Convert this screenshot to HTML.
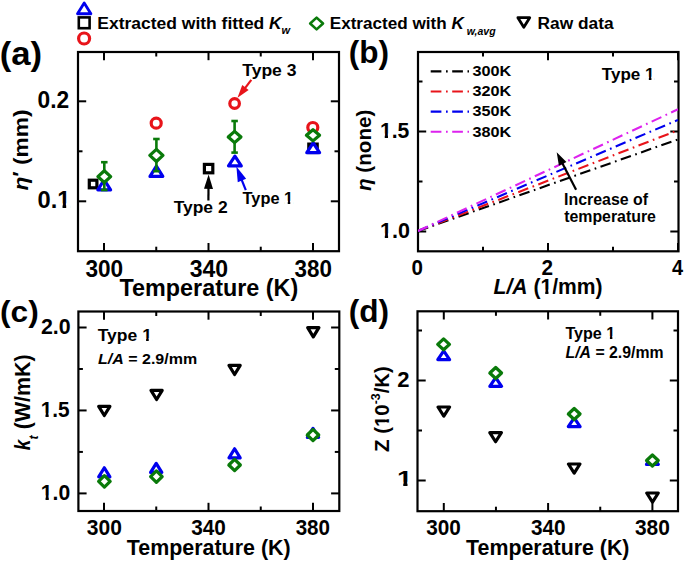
<!DOCTYPE html>
<html><head><meta charset="utf-8"><style>html,body{margin:0;padding:0;background:#fff;} svg{display:block;} text{font-family:"Liberation Sans",sans-serif;font-weight:bold;}</style></head>
<body><svg width="685" height="561" viewBox="0 0 685 561" font-family="Liberation Sans, sans-serif" font-weight="bold"><rect x="78" y="52" width="261" height="199.2" fill="none" stroke="#000" stroke-width="2.2"></rect>
<line x1="104.00" y1="251.20" x2="104.00" y2="243.00" stroke="#000" stroke-width="2"></line>
<line x1="104.00" y1="52.00" x2="104.00" y2="60.20" stroke="#000" stroke-width="2"></line>
<line x1="208.50" y1="251.20" x2="208.50" y2="243.00" stroke="#000" stroke-width="2"></line>
<line x1="208.50" y1="52.00" x2="208.50" y2="60.20" stroke="#000" stroke-width="2"></line>
<line x1="313.00" y1="251.20" x2="313.00" y2="243.00" stroke="#000" stroke-width="2"></line>
<line x1="313.00" y1="52.00" x2="313.00" y2="60.20" stroke="#000" stroke-width="2"></line>
<line x1="156.25" y1="251.20" x2="156.25" y2="246.70" stroke="#000" stroke-width="2"></line>
<line x1="156.25" y1="52.00" x2="156.25" y2="56.50" stroke="#000" stroke-width="2"></line>
<line x1="260.75" y1="251.20" x2="260.75" y2="246.70" stroke="#000" stroke-width="2"></line>
<line x1="260.75" y1="52.00" x2="260.75" y2="56.50" stroke="#000" stroke-width="2"></line>
<line x1="78.00" y1="201.30" x2="86.20" y2="201.30" stroke="#000" stroke-width="2"></line>
<line x1="339.00" y1="201.30" x2="330.80" y2="201.30" stroke="#000" stroke-width="2"></line>
<line x1="78.00" y1="101.30" x2="86.20" y2="101.30" stroke="#000" stroke-width="2"></line>
<line x1="339.00" y1="101.30" x2="330.80" y2="101.30" stroke="#000" stroke-width="2"></line>
<line x1="78.00" y1="151.30" x2="82.50" y2="151.30" stroke="#000" stroke-width="2"></line>
<line x1="339.00" y1="151.30" x2="334.50" y2="151.30" stroke="#000" stroke-width="2"></line>
<rect x="89.30" y="180.20" width="7.60" height="7.60" fill="#fff" stroke="#000" stroke-width="3.2"></rect>
<rect x="204.40" y="164.40" width="8.40" height="8.40" fill="#fff" stroke="#000" stroke-width="3.2"></rect>
<rect x="308.80" y="144.10" width="8.40" height="8.40" fill="#fff" stroke="#000" stroke-width="3.2"></rect>
<path d="M104.20,179.76 L110.60,189.80 L97.80,189.80 Z" fill="#fff" stroke="#0000ee" stroke-width="3.2" stroke-linejoin="round"></path>
<path d="M156.40,166.16 L162.80,176.40 L150.00,176.40 Z" fill="#fff" stroke="#0000ee" stroke-width="3.2" stroke-linejoin="round"></path>
<path d="M234.90,156.16 L241.30,165.80 L228.50,165.80 Z" fill="#fff" stroke="#0000ee" stroke-width="3.2" stroke-linejoin="round"></path>
<path d="M313.20,142.86 L319.60,152.70 L306.80,152.70 Z" fill="#fff" stroke="#0000ee" stroke-width="3.2" stroke-linejoin="round"></path>
<circle cx="156.20" cy="123.20" r="5.00" fill="#fff" stroke="#e8141a" stroke-width="3.2"></circle>
<circle cx="234.60" cy="103.50" r="4.80" fill="#fff" stroke="#e8141a" stroke-width="3.2"></circle>
<circle cx="312.80" cy="127.50" r="5.00" fill="#fff" stroke="#e8141a" stroke-width="3.2"></circle>
<line x1="104.30" y1="162.20" x2="104.30" y2="190.00" stroke="#0a7a0a" stroke-width="2.6"></line>
<line x1="101.05" y1="162.20" x2="107.55" y2="162.20" stroke="#0a7a0a" stroke-width="2.6"></line>
<line x1="101.05" y1="190.00" x2="107.55" y2="190.00" stroke="#0a7a0a" stroke-width="2.6"></line>
<line x1="156.40" y1="139.00" x2="156.40" y2="171.20" stroke="#0a7a0a" stroke-width="2.6"></line>
<line x1="153.15" y1="139.00" x2="159.65" y2="139.00" stroke="#0a7a0a" stroke-width="2.6"></line>
<line x1="153.15" y1="171.20" x2="159.65" y2="171.20" stroke="#0a7a0a" stroke-width="2.6"></line>
<line x1="234.60" y1="121.00" x2="234.60" y2="152.60" stroke="#0a7a0a" stroke-width="2.6"></line>
<line x1="231.35" y1="121.00" x2="237.85" y2="121.00" stroke="#0a7a0a" stroke-width="2.6"></line>
<line x1="231.35" y1="152.60" x2="237.85" y2="152.60" stroke="#0a7a0a" stroke-width="2.6"></line>
<path d="M104.30,170.72 L110.68,176.60 L104.30,182.48 L97.92,176.60 Z" fill="#fff" stroke="#0a7a0a" stroke-width="3.2" stroke-linejoin="round"></path>
<path d="M156.40,149.32 L162.98,155.40 L156.40,161.48 L149.82,155.40 Z" fill="#fff" stroke="#0a7a0a" stroke-width="3.2" stroke-linejoin="round"></path>
<path d="M234.60,131.42 L240.98,137.00 L234.60,142.58 L228.22,137.00 Z" fill="#fff" stroke="#0a7a0a" stroke-width="3.2" stroke-linejoin="round"></path>
<path d="M313.00,129.72 L319.58,135.30 L313.00,140.88 L306.42,135.30 Z" fill="#fff" stroke="#0a7a0a" stroke-width="3.2" stroke-linejoin="round"></path>
<line x1="251.30" y1="79.90" x2="244.83" y2="88.30" stroke="#e8141a" stroke-width="2.2"></line>
<path d="M237.50,97.80 L242.27,85.06 L248.61,89.95 Z" fill="#e8141a"></path>
<line x1="208.40" y1="200.40" x2="208.50" y2="187.90" stroke="#000" stroke-width="2.2"></line>
<path d="M208.60,174.40 L212.99,188.93 L203.99,188.86 Z" fill="#000"></path>
<line x1="245.80" y1="190.20" x2="241.58" y2="179.61" stroke="#0000ee" stroke-width="2.2"></line>
<path d="M236.40,166.60 L246.13,178.87 L237.77,182.20 Z" fill="#0000ee"></path>
<rect x="418" y="52" width="260.5" height="199.3" fill="none" stroke="#000" stroke-width="2.2"></rect>
<line x1="418.00" y1="251.30" x2="418.00" y2="243.10" stroke="#000" stroke-width="2"></line>
<line x1="418.00" y1="52.00" x2="418.00" y2="60.20" stroke="#000" stroke-width="2"></line>
<line x1="548.00" y1="251.30" x2="548.00" y2="243.10" stroke="#000" stroke-width="2"></line>
<line x1="548.00" y1="52.00" x2="548.00" y2="60.20" stroke="#000" stroke-width="2"></line>
<line x1="678.00" y1="251.30" x2="678.00" y2="243.10" stroke="#000" stroke-width="2"></line>
<line x1="678.00" y1="52.00" x2="678.00" y2="60.20" stroke="#000" stroke-width="2"></line>
<line x1="483.00" y1="251.30" x2="483.00" y2="246.80" stroke="#000" stroke-width="2"></line>
<line x1="483.00" y1="52.00" x2="483.00" y2="56.50" stroke="#000" stroke-width="2"></line>
<line x1="613.00" y1="251.30" x2="613.00" y2="246.80" stroke="#000" stroke-width="2"></line>
<line x1="613.00" y1="52.00" x2="613.00" y2="56.50" stroke="#000" stroke-width="2"></line>
<line x1="418.00" y1="231.50" x2="426.20" y2="231.50" stroke="#000" stroke-width="2"></line>
<line x1="678.50" y1="231.50" x2="670.30" y2="231.50" stroke="#000" stroke-width="2"></line>
<line x1="418.00" y1="131.50" x2="426.20" y2="131.50" stroke="#000" stroke-width="2"></line>
<line x1="678.50" y1="131.50" x2="670.30" y2="131.50" stroke="#000" stroke-width="2"></line>
<line x1="418.00" y1="181.50" x2="422.50" y2="181.50" stroke="#000" stroke-width="2"></line>
<line x1="678.50" y1="181.50" x2="674.00" y2="181.50" stroke="#000" stroke-width="2"></line>
<line x1="418.00" y1="81.50" x2="422.50" y2="81.50" stroke="#000" stroke-width="2"></line>
<line x1="678.50" y1="81.50" x2="674.00" y2="81.50" stroke="#000" stroke-width="2"></line>
<clipPath id="cb"><rect x="418" y="52" width="260.5" height="199.3"></rect></clipPath>
<line x1="418" y1="231" x2="678" y2="139.4" stroke="#000" stroke-width="2.1" stroke-dasharray="10.7 4.6 1.7 4.5" clip-path="url(#cb)"></line>
<line x1="418" y1="231" x2="678" y2="130.3" stroke="#e8141a" stroke-width="2.1" stroke-dasharray="10.7 4.6 1.7 4.5" clip-path="url(#cb)"></line>
<line x1="418" y1="231" x2="678" y2="119.9" stroke="#0000ee" stroke-width="2.1" stroke-dasharray="10.7 4.6 1.7 4.5" clip-path="url(#cb)"></line>
<line x1="418" y1="231" x2="678" y2="109.3" stroke="#dd22ee" stroke-width="2.1" stroke-dasharray="10.7 4.6 1.7 4.5" clip-path="url(#cb)"></line>
<line x1="430.7" y1="71.40" x2="469" y2="71.40" stroke="#000" stroke-width="2.1" stroke-dasharray="10.7 4.6 1.7 4.5"></line>
<line x1="430.7" y1="91.50" x2="469" y2="91.50" stroke="#e8141a" stroke-width="2.1" stroke-dasharray="10.7 4.6 1.7 4.5"></line>
<line x1="430.7" y1="111.60" x2="469" y2="111.60" stroke="#0000ee" stroke-width="2.1" stroke-dasharray="10.7 4.6 1.7 4.5"></line>
<line x1="430.7" y1="131.70" x2="469" y2="131.70" stroke="#dd22ee" stroke-width="2.1" stroke-dasharray="10.7 4.6 1.7 4.5"></line>
<line x1="576.10" y1="189.70" x2="562.23" y2="162.95" stroke="#000" stroke-width="2.2"></line>
<path d="M556.70,152.30 L566.46,161.88 L558.91,165.80 Z" fill="#000"></path>
<rect x="78.4" y="311.5" width="260.9" height="199.5" fill="none" stroke="#000" stroke-width="2.2"></rect>
<line x1="104.00" y1="511.00" x2="104.00" y2="502.80" stroke="#000" stroke-width="2"></line>
<line x1="104.00" y1="311.50" x2="104.00" y2="319.70" stroke="#000" stroke-width="2"></line>
<line x1="208.50" y1="511.00" x2="208.50" y2="502.80" stroke="#000" stroke-width="2"></line>
<line x1="208.50" y1="311.50" x2="208.50" y2="319.70" stroke="#000" stroke-width="2"></line>
<line x1="313.00" y1="511.00" x2="313.00" y2="502.80" stroke="#000" stroke-width="2"></line>
<line x1="313.00" y1="311.50" x2="313.00" y2="319.70" stroke="#000" stroke-width="2"></line>
<line x1="156.25" y1="511.00" x2="156.25" y2="506.50" stroke="#000" stroke-width="2"></line>
<line x1="156.25" y1="311.50" x2="156.25" y2="316.00" stroke="#000" stroke-width="2"></line>
<line x1="260.75" y1="511.00" x2="260.75" y2="506.50" stroke="#000" stroke-width="2"></line>
<line x1="260.75" y1="311.50" x2="260.75" y2="316.00" stroke="#000" stroke-width="2"></line>
<line x1="78.40" y1="493.40" x2="86.60" y2="493.40" stroke="#000" stroke-width="2"></line>
<line x1="339.30" y1="493.40" x2="331.10" y2="493.40" stroke="#000" stroke-width="2"></line>
<line x1="78.40" y1="410.45" x2="86.60" y2="410.45" stroke="#000" stroke-width="2"></line>
<line x1="339.30" y1="410.45" x2="331.10" y2="410.45" stroke="#000" stroke-width="2"></line>
<line x1="78.40" y1="327.50" x2="86.60" y2="327.50" stroke="#000" stroke-width="2"></line>
<line x1="339.30" y1="327.50" x2="331.10" y2="327.50" stroke="#000" stroke-width="2"></line>
<line x1="78.40" y1="451.92" x2="82.90" y2="451.92" stroke="#000" stroke-width="2"></line>
<line x1="339.30" y1="451.92" x2="334.80" y2="451.92" stroke="#000" stroke-width="2"></line>
<line x1="78.40" y1="368.97" x2="82.90" y2="368.97" stroke="#000" stroke-width="2"></line>
<line x1="339.30" y1="368.97" x2="334.80" y2="368.97" stroke="#000" stroke-width="2"></line>
<path d="M104.30,415.54 L109.90,406.30 L98.70,406.30 Z" fill="#fff" stroke="#000" stroke-width="3.2" stroke-linejoin="round"></path>
<path d="M156.60,399.54 L162.20,390.30 L151.00,390.30 Z" fill="#fff" stroke="#000" stroke-width="3.2" stroke-linejoin="round"></path>
<path d="M234.60,374.54 L240.20,365.30 L229.00,365.30 Z" fill="#fff" stroke="#000" stroke-width="3.2" stroke-linejoin="round"></path>
<path d="M313.30,336.84 L318.90,327.60 L307.70,327.60 Z" fill="#fff" stroke="#000" stroke-width="3.2" stroke-linejoin="round"></path>
<path d="M104.30,467.76 L109.90,476.80 L98.70,476.80 Z" fill="#fff" stroke="#0000ee" stroke-width="3.2" stroke-linejoin="round"></path>
<path d="M156.20,463.36 L161.80,472.40 L150.60,472.40 Z" fill="#fff" stroke="#0000ee" stroke-width="3.2" stroke-linejoin="round"></path>
<path d="M234.60,448.76 L240.20,457.80 L229.00,457.80 Z" fill="#fff" stroke="#0000ee" stroke-width="3.2" stroke-linejoin="round"></path>
<path d="M313.00,428.36 L318.60,437.40 L307.40,437.40 Z" fill="#fff" stroke="#0000ee" stroke-width="3.2" stroke-linejoin="round"></path>
<path d="M104.40,475.72 L110.18,481.40 L104.40,487.08 L98.62,481.40 Z" fill="#fff" stroke="#0a7a0a" stroke-width="3.2" stroke-linejoin="round"></path>
<path d="M156.40,470.92 L162.18,476.60 L156.40,482.28 L150.62,476.60 Z" fill="#fff" stroke="#0a7a0a" stroke-width="3.2" stroke-linejoin="round"></path>
<path d="M234.60,459.32 L240.38,465.00 L234.60,470.68 L228.82,465.00 Z" fill="#fff" stroke="#0a7a0a" stroke-width="3.2" stroke-linejoin="round"></path>
<path d="M313.00,429.32 L318.78,435.00 L313.00,440.68 L307.22,435.00 Z" fill="#fff" stroke="#0a7a0a" stroke-width="3.2" stroke-linejoin="round"></path>
<rect x="417.5" y="311.3" width="260.5" height="199.89999999999998" fill="none" stroke="#000" stroke-width="2.2"></rect>
<line x1="443.80" y1="511.20" x2="443.80" y2="503.00" stroke="#000" stroke-width="2"></line>
<line x1="443.80" y1="311.30" x2="443.80" y2="319.50" stroke="#000" stroke-width="2"></line>
<line x1="548.10" y1="511.20" x2="548.10" y2="503.00" stroke="#000" stroke-width="2"></line>
<line x1="548.10" y1="311.30" x2="548.10" y2="319.50" stroke="#000" stroke-width="2"></line>
<line x1="652.40" y1="511.20" x2="652.40" y2="503.00" stroke="#000" stroke-width="2"></line>
<line x1="652.40" y1="311.30" x2="652.40" y2="319.50" stroke="#000" stroke-width="2"></line>
<line x1="495.95" y1="511.20" x2="495.95" y2="506.70" stroke="#000" stroke-width="2"></line>
<line x1="495.95" y1="311.30" x2="495.95" y2="315.80" stroke="#000" stroke-width="2"></line>
<line x1="600.25" y1="511.20" x2="600.25" y2="506.70" stroke="#000" stroke-width="2"></line>
<line x1="600.25" y1="311.30" x2="600.25" y2="315.80" stroke="#000" stroke-width="2"></line>
<line x1="417.50" y1="480.50" x2="425.70" y2="480.50" stroke="#000" stroke-width="2"></line>
<line x1="678.00" y1="480.50" x2="669.80" y2="480.50" stroke="#000" stroke-width="2"></line>
<line x1="417.50" y1="380.50" x2="425.70" y2="380.50" stroke="#000" stroke-width="2"></line>
<line x1="678.00" y1="380.50" x2="669.80" y2="380.50" stroke="#000" stroke-width="2"></line>
<line x1="417.50" y1="430.50" x2="422.00" y2="430.50" stroke="#000" stroke-width="2"></line>
<line x1="678.00" y1="430.50" x2="673.50" y2="430.50" stroke="#000" stroke-width="2"></line>
<line x1="417.50" y1="330.50" x2="422.00" y2="330.50" stroke="#000" stroke-width="2"></line>
<line x1="678.00" y1="330.50" x2="673.50" y2="330.50" stroke="#000" stroke-width="2"></line>
<path d="M443.80,416.04 L449.60,407.00 L438.00,407.00 Z" fill="#fff" stroke="#000" stroke-width="3.2" stroke-linejoin="round"></path>
<path d="M495.60,441.74 L501.40,432.70 L489.80,432.70 Z" fill="#fff" stroke="#000" stroke-width="3.2" stroke-linejoin="round"></path>
<path d="M574.20,473.04 L580.00,464.00 L568.40,464.00 Z" fill="#fff" stroke="#000" stroke-width="3.2" stroke-linejoin="round"></path>
<path d="M652.50,502.04 L658.30,493.00 L646.70,493.00 Z" fill="#fff" stroke="#000" stroke-width="3.2" stroke-linejoin="round"></path>
<path d="M443.70,350.96 L449.60,359.60 L437.80,359.60 Z" fill="#fff" stroke="#0000ee" stroke-width="3.2" stroke-linejoin="round"></path>
<path d="M495.70,377.66 L501.60,386.30 L489.80,386.30 Z" fill="#fff" stroke="#0000ee" stroke-width="3.2" stroke-linejoin="round"></path>
<path d="M574.20,417.96 L580.10,426.60 L568.30,426.60 Z" fill="#fff" stroke="#0000ee" stroke-width="3.2" stroke-linejoin="round"></path>
<path d="M652.40,455.76 L658.30,464.40 L646.50,464.40 Z" fill="#fff" stroke="#0000ee" stroke-width="3.2" stroke-linejoin="round"></path>
<path d="M443.60,338.82 L449.48,344.30 L443.60,349.78 L437.72,344.30 Z" fill="#fff" stroke="#0a7a0a" stroke-width="3.2" stroke-linejoin="round"></path>
<path d="M495.70,367.52 L501.58,373.00 L495.70,378.48 L489.82,373.00 Z" fill="#fff" stroke="#0a7a0a" stroke-width="3.2" stroke-linejoin="round"></path>
<path d="M574.20,408.52 L580.08,414.00 L574.20,419.48 L568.32,414.00 Z" fill="#fff" stroke="#0a7a0a" stroke-width="3.2" stroke-linejoin="round"></path>
<path d="M652.40,455.02 L658.28,460.50 L652.40,465.98 L646.52,460.50 Z" fill="#fff" stroke="#0a7a0a" stroke-width="3.2" stroke-linejoin="round"></path>
<path d="M84.20,2.89 L90.90,13.75 L77.50,13.75 Z" fill="#fff" stroke="#0000ee" stroke-width="2.8" stroke-linejoin="round"></path>
<rect x="78.80" y="17.40" width="10.80" height="10.80" fill="#fff" stroke="#000" stroke-width="2.6"></rect>
<circle cx="84.10" cy="38.50" r="5.50" fill="#fff" stroke="#e8141a" stroke-width="3.2"></circle>
<path d="M316.60,17.66 L323.04,23.50 L316.60,29.34 L310.16,23.50 Z" fill="#fff" stroke="#0a7a0a" stroke-width="2.6" stroke-linejoin="round"></path>
<path d="M523.80,27.26 L529.70,17.70 L517.90,17.70 Z" fill="#fff" stroke="#000" stroke-width="2.8" stroke-linejoin="round"></path>
<text transform="translate(-0.24,65.00) scale(0.21027,0.20000)" font-size="165" fill="#000">(a)</text>
<text transform="translate(37.54,108.20) scale(0.19136,0.20000)" font-size="119" fill="#000">0.2</text>
<text transform="translate(37.51,207.80) scale(0.19892,0.20000)" font-size="119" fill="#000">0.1</text><path d="M100.84,-23.24H125.94V5.23H100.84ZM144.13,-23.24H166.50V5.23H144.13Z" fill="#fff" transform="translate(37.51,207.80) scale(0.19892,0.20000)"></path>
<text transform="translate(85.42,277.20) scale(0.19232,0.20000)" font-size="117.5" fill="#000">300</text>
<text transform="translate(189.71,277.20) scale(0.19603,0.20000)" font-size="117.5" fill="#000">340</text>
<text transform="translate(294.52,277.20) scale(0.19073,0.20000)" font-size="117.5" fill="#000">380</text>
<text transform="translate(119.55,295.60) scale(0.19882,0.20000)" font-size="117.5" fill="#000">Temperature (K)</text>
<text transform="translate(28.40,190.54) rotate(-90) scale(0.21605,0.20000)" font-size="105" fill="#000"><tspan font-style="italic">η</tspan><tspan dy="-8">′</tspan><tspan dy="8"> (mm)</tspan></text>
<text transform="translate(242.23,75.50) scale(0.21400,0.20000)" font-size="82" fill="#000">Type 3</text>
<text transform="translate(173.64,213.10) scale(0.21030,0.20000)" font-size="83" fill="#000">Type 2</text>
<text transform="translate(242.55,204.10) scale(0.19731,0.20000)" font-size="83" fill="#000">Type 1</text><path d="M211.53,-16.21H229.04V3.65H211.53ZM241.72,-16.21H257.33V3.65H241.72Z" fill="#fff" transform="translate(242.55,204.10) scale(0.19731,0.20000)"></path>
<text transform="translate(472.48,76.20) scale(0.20966,0.20000)" font-size="77.5" fill="#000">300K</text>
<text transform="translate(472.48,96.30) scale(0.20966,0.20000)" font-size="77.5" fill="#000">320K</text>
<text transform="translate(472.48,116.40) scale(0.20966,0.20000)" font-size="77.5" fill="#000">350K</text>
<text transform="translate(472.48,136.50) scale(0.20966,0.20000)" font-size="77.5" fill="#000">380K</text>
<text transform="translate(348.65,62.70) scale(0.20722,0.20000)" font-size="152.5" fill="#000">(b)</text>
<text transform="translate(379.98,137.80) scale(0.18966,0.20000)" font-size="111.5" fill="#000">1.5</text><path d="M1.63,-21.78H25.15V4.90H1.63ZM42.19,-21.78H63.15V4.90H42.19Z" fill="#fff" transform="translate(379.98,137.80) scale(0.18966,0.20000)"></path>
<text transform="translate(379.95,237.60) scale(0.19298,0.20000)" font-size="111.5" fill="#000">1.0</text><path d="M1.63,-21.78H25.15V4.90H1.63ZM42.19,-21.78H63.15V4.90H42.19Z" fill="#fff" transform="translate(379.95,237.60) scale(0.19298,0.20000)"></path>
<text transform="translate(411.40,275.40) scale(0.18047,0.20000)" font-size="114" fill="#000">0</text>
<text transform="translate(541.52,275.40) scale(0.18182,0.20000)" font-size="114" fill="#000">2</text>
<text transform="translate(672.08,275.40) scale(0.17469,0.20000)" font-size="114" fill="#000">4</text>
<text transform="translate(493.62,293.80) scale(0.19179,0.20000)" font-size="110" fill="#000"><tspan font-style="italic">L/A</tspan> (1/mm)</text><path d="M245.95,-21.48H269.15V4.83H245.95ZM285.96,-21.48H306.64V4.83H285.96Z" fill="#fff" transform="translate(493.62,293.80) scale(0.19179,0.20000)"></path>
<text transform="translate(371.30,191.00) rotate(-90) scale(0.20139,0.20000)" font-size="102.5" fill="#000"><tspan font-style="italic">η</tspan> (none)</text>
<text transform="translate(601.84,79.90) scale(0.20758,0.20000)" font-size="82" fill="#000">Type 1</text><path d="M209.10,-16.02H226.40V3.60H209.10ZM238.93,-16.02H254.34V3.60H238.93Z" fill="#fff" transform="translate(601.84,79.90) scale(0.20758,0.20000)"></path>
<text transform="translate(564.08,205.30) scale(0.20417,0.20000)" font-size="78" fill="#000">Increase of</text>
<text transform="translate(564.15,222.40) scale(0.20380,0.20000)" font-size="78" fill="#000">temperature</text>
<text transform="translate(0.01,322.20) scale(0.21156,0.20000)" font-size="150" fill="#000">(c)</text>
<text transform="translate(40.89,333.80) scale(0.18983,0.20000)" font-size="112.5" fill="#000">2.0</text>
<text transform="translate(40.80,417.00) scale(0.18621,0.20000)" font-size="111.5" fill="#000">1.5</text><path d="M1.63,-21.78H25.15V4.90H1.63ZM42.19,-21.78H63.15V4.90H42.19Z" fill="#fff" transform="translate(40.80,417.00) scale(0.18621,0.20000)"></path>
<text transform="translate(40.78,499.60) scale(0.18947,0.20000)" font-size="111.5" fill="#000">1.0</text><path d="M1.63,-21.78H25.15V4.90H1.63ZM42.19,-21.78H63.15V4.90H42.19Z" fill="#fff" transform="translate(40.78,499.60) scale(0.18947,0.20000)"></path>
<text transform="translate(86.82,534.60) scale(0.19121,0.20000)" font-size="110" fill="#000">300</text>
<text transform="translate(191.23,534.60) scale(0.18894,0.20000)" font-size="110" fill="#000">340</text>
<text transform="translate(295.63,534.60) scale(0.18723,0.20000)" font-size="110" fill="#000">380</text>
<text transform="translate(126.75,555.20) scale(0.19662,0.20000)" font-size="109" fill="#000">Temperature (K)</text>
<text transform="translate(30.30,429.20) rotate(-90) scale(0.19904,0.20000)" font-size="107.5" fill="#000">(W/mK)</text>
<text transform="translate(30.40,450.34) rotate(-90) scale(0.17469,0.20000)" font-size="107.5" fill="#000"><tspan font-style="italic">k</tspan></text>
<text transform="translate(37.60,439.39) rotate(-90) scale(0.19500,0.20000)" font-size="62.5" fill="#000"><tspan font-style="italic">t</tspan></text>
<text transform="translate(97.73,341.20) scale(0.21347,0.20000)" font-size="82" fill="#000">Type 1</text><path d="M209.16,-16.02H226.46V3.60H209.16ZM238.99,-16.02H254.41V3.60H238.99Z" fill="#fff" transform="translate(97.73,341.20) scale(0.21347,0.20000)"></path>
<text transform="translate(97.94,363.70) scale(0.20941,0.20000)" font-size="76.5" fill="#000"><tspan font-style="italic">L/A</tspan> = 2.9/mm</text>
<text transform="translate(348.65,322.20) scale(0.20722,0.20000)" font-size="152.5" fill="#000">(d)</text>
<text transform="translate(397.15,386.50) scale(0.20000,0.20000)" font-size="110" fill="#000">2</text>
<text transform="translate(397.01,486.10) scale(0.25185,0.20000)" font-size="110" fill="#000">1</text><path d="M1.61,-21.48H24.81V4.83H1.61ZM41.63,-21.48H62.30V4.83H41.63Z" fill="#fff" transform="translate(397.01,486.10) scale(0.25185,0.20000)"></path>
<text transform="translate(426.13,534.60) scale(0.18894,0.20000)" font-size="110" fill="#000">300</text>
<text transform="translate(530.93,534.60) scale(0.18894,0.20000)" font-size="110" fill="#000">340</text>
<text transform="translate(634.92,534.60) scale(0.19064,0.20000)" font-size="110" fill="#000">380</text>
<text transform="translate(466.05,555.20) scale(0.19613,0.20000)" font-size="109" fill="#000">Temperature (K)</text>
<text transform="translate(388.90,452.01) rotate(-90) scale(0.20461,0.20000)" font-size="100" fill="#000">Z (10<tspan font-size="60" dy="-45">-3</tspan><tspan dy="45">/K)</tspan></text><path d="M123.49,-19.53H144.58V4.39H123.49ZM159.86,-19.53H178.66V4.39H159.86Z" fill="#fff" transform="translate(388.90,452.01) rotate(-90) scale(0.20461,0.20000)"></path>
<text transform="translate(565.44,339.40) scale(0.20641,0.20000)" font-size="78" fill="#000">Type 1</text><path d="M198.96,-15.23H215.42V3.43H198.96ZM227.34,-15.23H242.00V3.43H227.34Z" fill="#fff" transform="translate(565.44,339.40) scale(0.20641,0.20000)"></path>
<text transform="translate(565.55,358.30) scale(0.20293,0.20000)" font-size="78" fill="#000"><tspan font-style="italic">L/A</tspan> = 2.9/mm</text>
<text transform="translate(97.33,28.70) scale(0.20326,0.20000)" font-size="86" fill="#000">Extracted with fitted <tspan font-style="italic">K</tspan></text>
<text transform="translate(281.40,34.00) scale(0.20000,0.20000)" font-size="55" fill="#000"><tspan font-style="italic">w</tspan></text>
<text transform="translate(466.82,34.60) scale(0.19119,0.20000)" font-size="55" fill="#000"><tspan font-style="italic">w,avg</tspan></text>
<text transform="translate(329.76,29.40) scale(0.19903,0.20000)" font-size="86" fill="#000">Extracted with <tspan font-style="italic">K</tspan></text>
<text transform="translate(537.54,29.10) scale(0.20175,0.20000)" font-size="86" fill="#000">Raw data</text></svg></body></html>
